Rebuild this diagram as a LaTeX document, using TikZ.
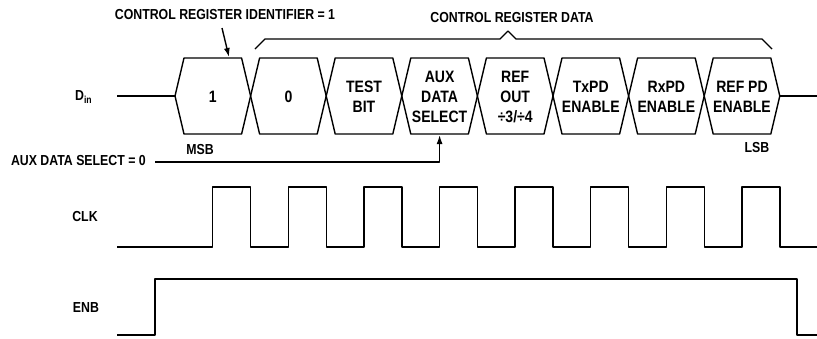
\documentclass[tikz,border=0pt]{standalone}
\usepackage{fontspec}
\setmainfont{Liberation Sans}[FakeStretch=0.85]
\usetikzlibrary{arrows.meta}

\tikzset{
  sig/.style={line width=1.4pt,line join=round},
  celltext/.style={align=center,inner sep=0pt,font=\fontsize{16.5}{20}\selectfont\bfseries},
  lab/.style={inner sep=0pt,font=\fontsize{14.5}{17}\selectfont\bfseries},
  tip/.style={-{Latex[length=9pt,width=6pt]}},
}

\begin{document}
\begin{tikzpicture}[x=1pt,y=-1pt]
  \useasboundingbox (0,0) rectangle (817,338);

  % D_in: eight serial bits
  \node[lab,anchor=west] (dinlab) at (75,97) {D\textsubscript{in}};
  \coordinate (dinstart) at (117,96);
  \coordinate (dinend) at (817,96);
  \draw[sig] (dinstart) -- (175,96);
  \draw[sig] (780,96) -- (dinend);
  \foreach \i/\txt in {1/1,2/0,3/{TEST\\BIT},4/{AUX\\DATA\\SELECT},
      5/{REF\\OUT\\÷3/÷4},6/{TxPD\\ENABLE},7/{RxPD\\ENABLE},8/{REF PD\\ENABLE}} {
    \pgfmathsetmacro\bl{175+75.6*(\i-1)}
    \pgfmathsetmacro\br{175+75.6*\i}
    \draw[sig] (\bl,96) -- (\bl+9,58) -- (\br-9,58) -- (\br,96)
      -- (\br-9,134) -- (\bl+9,134) -- cycle;
    \node[celltext] (cell\i) at ({(\bl+\br)/2},97) {\txt};
  }
  \node[lab] (msb) at (200,150) {MSB};
  \node[lab] (lsb) at (757,148) {LSB};

  % labels above the bits
  \node[lab] (idlabel) at (225,15) {CONTROL REGISTER IDENTIFIER = 1};
  \coordinate (idfoot) at (222,28);
  \coordinate (idtip) at (229,57);
  \draw[sig,tip] (idfoot) -- (idtip);
  \node[lab] (datalabel) at (512,18) {CONTROL REGISTER DATA};
  \draw[sig] (255,49) -- (265,39) -- (500,39) -- (508,31) -- (516,39)
    -- (762,39) -- (772,49);

  % AUX DATA SELECT = 0
  \node[lab,anchor=east] (auxlab) at (146,161) {AUX DATA SELECT = 0};
  \coordinate (auxstart) at (155,162);
  \coordinate (auxtip) at (cell4 |- 0,135);
  \draw[sig,tip] (auxstart) -- (auxstart -| auxtip) -- (auxtip);

  % CLK
  \node[lab] (clklab) at (85,217) {CLK};
  \draw[sig] (117,247) \foreach \k in {1,...,8} {
      -- ({175+75.6*\k-38},247) -- ({175+75.6*\k-38},187)
      -- ({175+75.6*\k},187) -- ({175+75.6*\k},247) } -- (817,247);

  % ENB
  \node[lab] (enblab) at (86,308) {ENB};
  \draw[sig] (117,335) -- (155,335) -- (155,279) -- (797,279) -- (797,335) -- (817,335);
\end{tikzpicture}
\end{document}
